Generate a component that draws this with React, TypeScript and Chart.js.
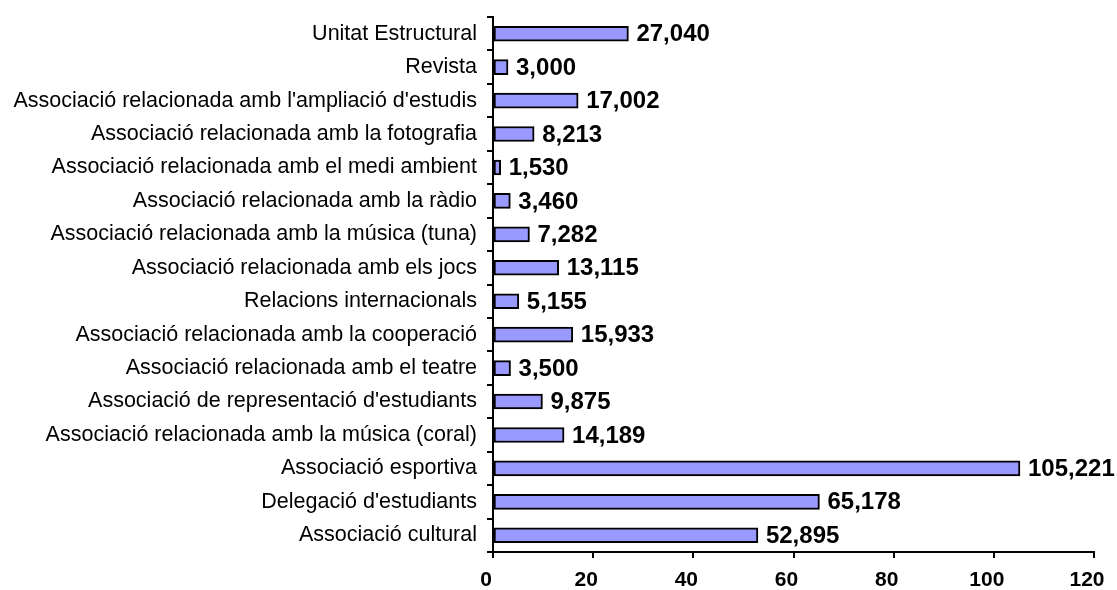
import React, { useEffect, useRef } from "react";
import { Chart, registerables } from "chart.js";

Chart.register(...registerables);

const categories: string[] = [
  "Unitat Estructural",
  "Revista",
  "Associació relacionada amb l'ampliació d'estudis",
  "Associació relacionada amb la fotografia",
  "Associació relacionada amb el medi ambient",
  "Associació relacionada amb la ràdio",
  "Associació relacionada amb la música (tuna)",
  "Associació relacionada amb els jocs",
  "Relacions internacionals",
  "Associació relacionada amb la cooperació",
  "Associació relacionada amb el teatre",
  "Associació de representació d'estudiants",
  "Associació relacionada amb la música (coral)",
  "Associació esportiva",
  "Delegació d'estudiants",
  "Associació cultural",
];

const values: number[] = [
  27.04, 3.0, 17.002, 8.213, 1.53, 3.46, 7.282, 13.115, 5.155, 15.933, 3.5,
  9.875, 14.189, 105.221, 65.178, 52.895,
];

const xTicks: number[] = [0, 20, 40, 60, 80, 100, 120];

const FONT = "'Liberation Sans', Arial, sans-serif";

const valueLabelPlugin = {
  id: "valueLabels",
  afterDatasetsDraw(chart: any) {
    const ctx = chart.ctx;
    const meta = chart.getDatasetMeta(0);
    ctx.save();
    ctx.font = `bold 24px ${FONT}`;
    ctx.fillStyle = "#000";
    ctx.textAlign = "left";
    ctx.textBaseline = "middle";
    meta.data.forEach((bar: any, i: number) => {
      const txt = values[i].toFixed(3).replace(".", ",");
      ctx.fillText(txt, bar.x + 8, bar.y + 1);
    });
    ctx.restore();
  },
};

export default function App() {
  const ref = useRef<HTMLCanvasElement>(null);
  useEffect(() => {
    document.body.style.margin = "0";
    document.body.style.overflow = "hidden";
    const chart = new Chart(ref.current!, {
      type: "bar",
      data: {
        labels: categories,
        datasets: [
          {
            data: values,
            backgroundColor: "#9999FF",
            borderColor: "#000000",
            borderWidth: 2,
            borderSkipped: false,
            barThickness: 15,
          },
        ],
      },
      options: {
        indexAxis: "y",
        animation: false,
        responsive: false,
        maintainAspectRatio: false,
        layout: { padding: { top: 17, right: 23, left: 0, bottom: 0 } },
        plugins: { legend: { display: false }, tooltip: { enabled: false } },
        scales: {
          x: {
            min: 0,
            max: 120,
            afterBuildTicks: (scale: any) => {
              scale.ticks = xTicks.map((v) => ({ value: v }));
            },
            afterFit: (scale: any) => {
              scale.height = 38;
              scale.paddingLeft = 0;
              scale.paddingRight = 0;
            },
            grid: {
              drawOnChartArea: false,
              drawTicks: true,
              tickLength: 6,
              color: "#000",
              lineWidth: 2,
            },
            border: { display: true, color: "#000", width: 2 },
            ticks: {
              color: "#000",
              padding: 10,
              maxRotation: 0,
              labelOffset: -7,
              font: { family: FONT, size: 21, weight: "bold" },
            },
          },
          y: {
            afterFit: (scale: any) => {
              scale.width = 493;
              scale.paddingTop = 0;
              scale.paddingBottom = 0;
            },
            grid: {
              offset: true,
              drawOnChartArea: false,
              drawTicks: true,
              tickLength: 6,
              color: "#000",
              lineWidth: 2,
            },
            border: { display: true, color: "#000", width: 2 },
            ticks: {
              color: "#000",
              padding: 10,
              autoSkip: false,
              font: { family: FONT, size: 21.5 },
            },
          },
        },
      },
      plugins: [valueLabelPlugin],
    });
    return () => chart.destroy();
  }, []);
  return (
    <div style={{ width: 1117, height: 590 }}>
      <canvas ref={ref} width={1117} height={590} style={{ display: "block" }} />
    </div>
  );
}
